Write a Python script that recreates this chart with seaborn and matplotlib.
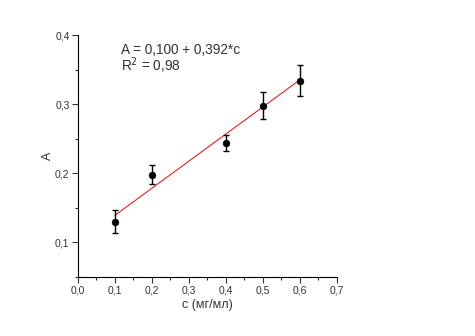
import numpy as np
import pandas as pd
import seaborn as sns
import matplotlib.pyplot as plt
from matplotlib.ticker import MultipleLocator, FuncFormatter

conc = [0.1, 0.2, 0.4, 0.5, 0.6]
absorb = [0.130, 0.198, 0.244, 0.298, 0.334]
err = [0.017, 0.0135, 0.0115, 0.019, 0.0225]
fit_a = 0.100
fit_b = 0.392

df = pd.DataFrame({'c': conc, 'A': absorb, 'err': err})

sns.set_style('ticks')
plt.rcParams['font.family'] = ['Liberation Sans', 'DejaVu Sans']

fig = plt.figure(figsize=(4.75, 3.36), dpi=100)
ax = fig.add_axes([0.164, 0.1756, 0.545, 0.72])

fit_x = np.array([min(conc), max(conc)])
sns.lineplot(x=fit_x, y=fit_a + fit_b * fit_x, color='red', lw=0.7, ax=ax)
ax.errorbar(df['c'], df['A'], yerr=df['err'], fmt='none', ecolor='black',
            elinewidth=1, capsize=2.5, capthick=1)
sns.scatterplot(data=df, x='c', y='A', color='black', s=24, edgecolor='black',
                zorder=3, ax=ax)

ax.set_xlim(0, 0.7)
ax.set_ylim(0.05, 0.4)
ax.xaxis.set_major_locator(MultipleLocator(0.1))
ax.xaxis.set_minor_locator(MultipleLocator(0.05))
ax.yaxis.set_major_locator(MultipleLocator(0.1))
ax.yaxis.set_minor_locator(MultipleLocator(0.05))
fmt = FuncFormatter(lambda v, p: f'{v:.1f}'.replace('.', ','))
ax.xaxis.set_major_formatter(fmt)
ax.yaxis.set_major_formatter(fmt)
ax.tick_params(which='major', length=4, width=0.8, labelsize=7.5, colors='#333333', pad=2)
ax.tick_params(which='minor', length=2.5, width=0.8)
for s in ['left', 'bottom']:
    ax.spines[s].set_linewidth(0.8)
    ax.spines[s].set_color('black')
sns.despine(ax=ax)

ax.set_xlabel('c (мг/мл)', fontsize=9, labelpad=3, color='#333333')
ax.set_ylabel('A', fontsize=9, labelpad=1, color='#333333')

ax.text(0.117, 0.372, 'A = 0,100 + 0,392*c', fontsize=9.8, color='#333333')
ax.text(0.117, 0.348, 'R$^2$ = 0,98', fontsize=9.8, color='#333333')

fig.savefig('out.png', dpi=100)
